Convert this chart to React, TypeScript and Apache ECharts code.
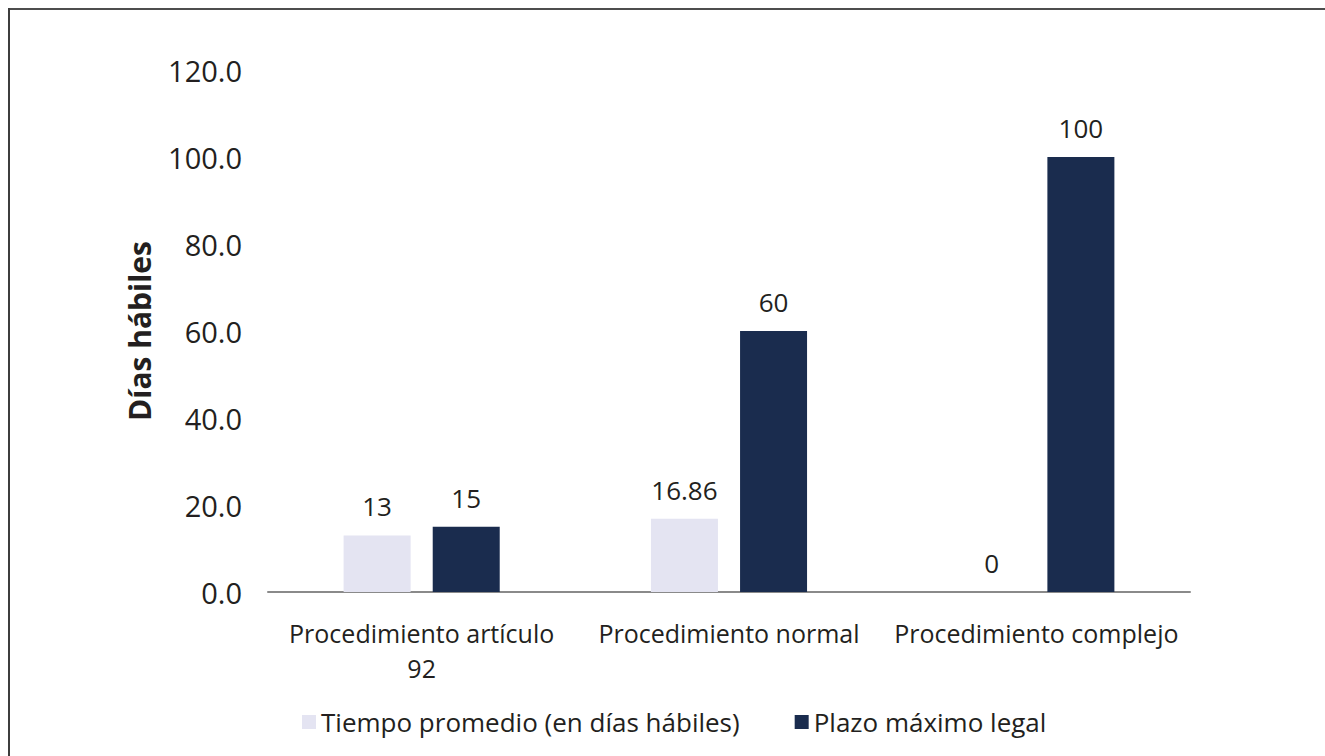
import React, { useEffect, useRef } from "react";
import * as echarts from "echarts";

const categories = ["Procedimiento artículo\n92", "Procedimiento normal", "Procedimiento complejo"];
const tiempoPromedio = [13, 16.86, 0];
const plazoMaximo = [15, 60, 100];
const seriesNames = ["Tiempo promedio (en días hábiles)", "Plazo máximo legal"];
const yAxisTitle = "Días hábiles";

const FONT = "'Open Sans', sans-serif";
const TEXT = "#231f20";

export default function App() {
  const ref = useRef<HTMLDivElement>(null);
  useEffect(() => {
    if (!ref.current) return;
    const chart = echarts.init(ref.current, null, { renderer: "svg" });
    const labelStyle = {
      show: true,
      position: "top",
      distance: 16,
      fontFamily: FONT,
      fontSize: 26,
      color: TEXT,
      formatter: (p: any) => String(p.value),
    };
    chart.setOption({
      animation: false,
      backgroundColor: "#ffffff",
      textStyle: { fontFamily: FONT },
      grid: { left: 268, right: 135, top: 70, bottom: 164 },
      legend: {
        left: 297,
        top: 704,
        itemWidth: 14,
        itemHeight: 14,
        itemGap: 55,
        icon: "rect",
        textStyle: { fontFamily: FONT, fontSize: 26, color: TEXT },
        data: seriesNames,
      },
      xAxis: {
        type: "category",
        data: categories,
        axisLine: { lineStyle: { color: "#8a8a8a", width: 2 } },
        axisTick: { show: false },
        axisLabel: {
          fontFamily: FONT,
          fontSize: 25,
          color: TEXT,
          margin: 23,
          lineHeight: 35,
          interval: 0,
        },
      },
      yAxis: {
        type: "value",
        min: 0,
        max: 120,
        interval: 20,
        name: yAxisTitle,
        nameLocation: "middle",
        nameRotate: 90,
        nameGap: 114,
        nameTextStyle: { fontFamily: FONT, fontSize: 30, fontWeight: "bold", color: TEXT },
        axisLine: { show: false },
        axisTick: { show: false },
        splitLine: { show: false },
        axisLabel: {
          fontFamily: FONT,
          fontSize: 29,
          color: TEXT,
          margin: 26,
          formatter: (v: number) => v.toFixed(1),
        },
      },
      series: [
        {
          name: seriesNames[0],
          type: "bar",
          data: tiempoPromedio,
          barWidth: "21.8%",
          barGap: "33%",
          itemStyle: { color: "#e4e4f2" },
          label: labelStyle,
        },
        {
          name: seriesNames[1],
          type: "bar",
          data: plazoMaximo,
          barWidth: "21.8%",
          barGap: "33%",
          itemStyle: { color: "#1a2c4e" },
          label: labelStyle,
        },
      ],
      graphic: [
        { type: "rect", shape: { x: 8, y: 8, width: 1317, height: 2 }, style: { fill: "#4d4d4d" }, silent: true },
        { type: "rect", shape: { x: 8, y: 8, width: 2, height: 748 }, style: { fill: "#3d3d3d" }, silent: true },
      ],
    });
    return () => chart.dispose();
  }, []);
  return (
    <div
      ref={ref}
      style={{ position: "fixed", left: 0, top: 0, width: 1325, height: 756 }}
    />
  );
}
